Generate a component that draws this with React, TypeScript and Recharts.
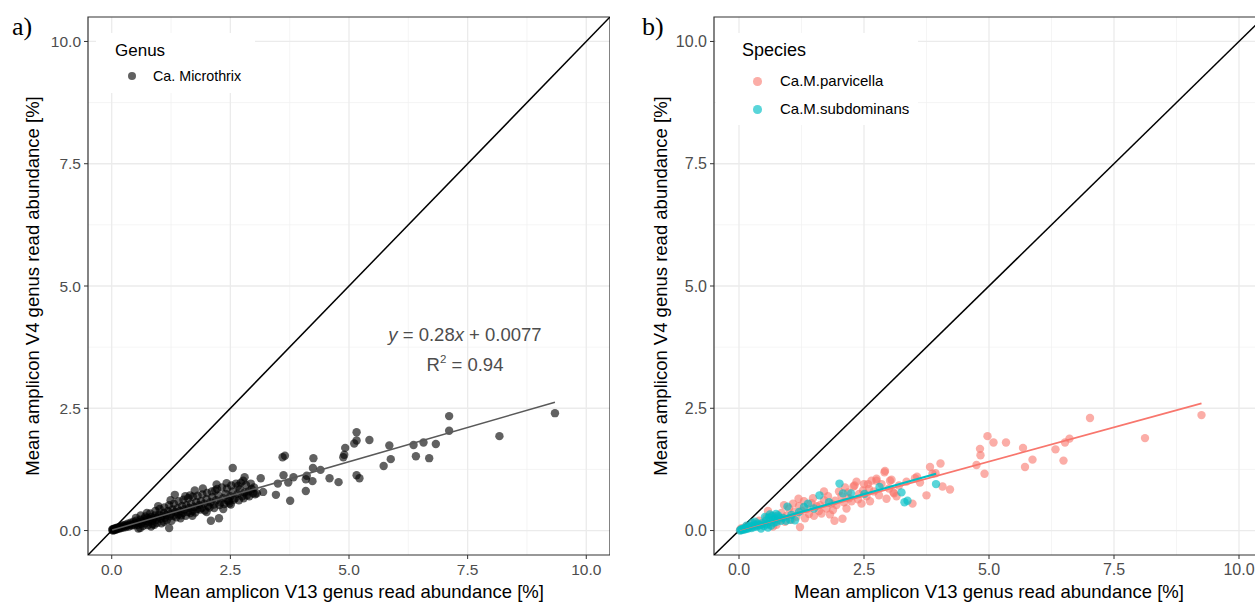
import React from 'react';
import { ScatterChart, Scatter, XAxis, YAxis, CartesianGrid, ReferenceLine, ReferenceArea } from 'recharts';

const majorTicks = [0, 2.5, 5, 7.5, 10];
const minorTicks = [1.25, 3.75, 6.25, 8.75];
const tickLabels = ['0.0', '2.5', '5.0', '7.5', '10.0'];
const axisDomain: [number, number] = [-0.5, 10.5];

const xTitle = 'Mean amplicon V13 genus read abundance [%]';
const yTitle = 'Mean amplicon V4 genus read abundance [%]';

const genusLabel = 'Ca. Microthrix';
const speciesLabels = ['Ca.M.parvicella', 'Ca.M.subdominans'];

// Panel a: Ca. Microthrix (V13 x, V4 y)
const genusPoints: [number, number][] = [
  [9.34, 2.40], [8.17, 1.93], [7.11, 2.34], [7.11, 2.04], [6.83, 1.77], [6.57, 1.80], [6.36, 1.75],
  [6.41, 1.52], [6.69, 1.48], [5.85, 1.74], [5.88, 1.46], [5.73, 1.32], [5.43, 1.85], [5.16, 2.01],
  [5.16, 1.84], [5.11, 1.78], [4.92, 1.69], [4.90, 1.55], [4.88, 1.50], [5.16, 1.13], [5.22, 1.07],
  [4.78, 0.99], [4.59, 1.07], [4.40, 1.24], [4.25, 1.48], [4.24, 1.28], [4.23, 1.01], [4.11, 1.12],
  [4.09, 1.05], [4.09, 0.81], [3.83, 1.09], [3.72, 0.98], [3.76, 0.61], [3.62, 1.13], [3.60, 1.50],
  [3.65, 1.53], [3.50, 0.96], [3.46, 0.73], [3.14, 1.07], [3.19, 0.79], [2.98, 0.76], [3.06, 0.76],
  [2.55, 1.28], [2.77, 1.02], [2.80, 1.09], [2.66, 0.91], [2.42, 0.97], [2.21, 0.94], [2.18, 0.82],
  [2.48, 0.55], [2.26, 0.25], [2.09, 0.20], [2.00, 0.38], [1.75, 0.82], [1.33, 0.73], [1.21, 0.05],
  [1.65, 0.72], [2.88, 0.80], [2.95, 0.85], [3.02, 0.74], [2.85, 0.72], [2.51, 0.53], [0.83, 0.08],
  [0.01, 0.01], [0.02, 0.03], [0.03, 0.00], [0.04, 0.02], [0.05, 0.04], [0.06, 0.01], [0.07, 0.03],
  [0.08, 0.05], [0.09, 0.02], [0.10, 0.04], [0.11, 0.06], [0.12, 0.03], [0.13, 0.05], [0.15, 0.07],
  [0.16, 0.04], [0.18, 0.06], [0.19, 0.09], [0.20, 0.05], [0.22, 0.08], [0.24, 0.11], [0.25, 0.06],
  [0.27, 0.09], [0.29, 0.12], [0.30, 0.07], [0.32, 0.10], [0.34, 0.14], [0.36, 0.08], [0.38, 0.12],
  [0.40, 0.16], [0.42, 0.10], [0.44, 0.13], [0.46, 0.18], [0.48, 0.11], [0.50, 0.15], [0.52, 0.20],
  [0.55, 0.12], [0.57, 0.17], [0.60, 0.22], [0.62, 0.14], [0.65, 0.19], [0.68, 0.24], [0.70, 0.15],
  [0.72, 0.20], [0.75, 0.26], [0.78, 0.18], [0.80, 0.23], [0.83, 0.28], [0.86, 0.20], [0.88, 0.25],
  [0.91, 0.31], [0.94, 0.22], [0.97, 0.27], [1.00, 0.33], [1.03, 0.24], [1.06, 0.30], [1.10, 0.36],
  [1.12, 0.26], [1.15, 0.32], [1.18, 0.40], [1.22, 0.29], [1.25, 0.35], [1.28, 0.43], [1.30, 0.30],
  [1.34, 0.38], [1.38, 0.45], [1.40, 0.33], [1.44, 0.40], [1.48, 0.50], [1.50, 0.36], [1.53, 0.43],
  [1.57, 0.52], [1.60, 0.38], [1.63, 0.46], [1.67, 0.55], [1.70, 0.40], [1.74, 0.48], [1.78, 0.58],
  [1.80, 0.44], [1.84, 0.52], [1.88, 0.60], [1.90, 0.46], [1.95, 0.55], [2.00, 0.64], [2.03, 0.50],
  [2.08, 0.58], [2.12, 0.68], [2.15, 0.53], [2.20, 0.62], [2.25, 0.72], [2.30, 0.58], [2.35, 0.66],
  [2.40, 0.75], [2.45, 0.62], [2.50, 0.70], [2.55, 0.80], [2.60, 0.66], [2.65, 0.75], [2.70, 0.84],
  [2.75, 0.70], [2.80, 0.78], [1.45, 0.25], [0.90, 0.12], [1.70, 0.30], [0.60, 0.05], [1.10, 0.18],
  [0.51, 0.26], [0.56, 0.04], [0.61, 0.31], [0.66, 0.09], [0.71, 0.29], [0.76, 0.11], [0.81, 0.35],
  [0.86, 0.13], [0.92, 0.40], [0.96, 0.16], [1.01, 0.44], [1.05, 0.15], [1.11, 0.47], [1.16, 0.21],
  [1.21, 0.52], [1.26, 0.20], [1.31, 0.55], [1.36, 0.27], [1.41, 0.60], [1.46, 0.31], [1.51, 0.63],
  [1.56, 0.30], [1.61, 0.66], [1.66, 0.36], [1.71, 0.69], [1.76, 0.37], [1.81, 0.71], [1.86, 0.43],
  [1.91, 0.74], [1.96, 0.41], [2.01, 0.77], [2.06, 0.47], [2.11, 0.80], [2.16, 0.46], [2.22, 0.85],
  [2.27, 0.52], [2.32, 0.88], [2.37, 0.54], [2.43, 0.86], [2.47, 0.60], [2.52, 0.92], [2.57, 0.63],
  [2.62, 0.96], [2.68, 0.62], [2.72, 0.98], [2.78, 0.66], [2.83, 0.93], [2.90, 0.70], [2.93, 0.96],
  [3.00, 0.88], [1.24, 0.62], [1.55, 0.70], [0.98, 0.50], [0.74, 0.36], [1.92, 0.86], [2.35, 0.44],
];

// Panel b: species
const parvicellaPoints: [number, number][] = [
  [9.25, 2.36], [8.12, 1.89], [7.02, 2.30], [6.61, 1.88], [6.52, 1.80], [6.33, 1.66], [6.49, 1.43],
  [5.87, 1.45], [5.72, 1.30], [5.68, 1.69], [5.34, 1.80], [5.09, 1.80], [4.97, 1.93], [4.82, 1.67],
  [4.83, 1.54], [4.75, 1.34], [4.91, 1.16], [4.03, 1.37], [3.82, 1.30], [3.93, 1.17], [3.87, 1.16],
  [4.07, 0.90], [4.22, 0.84], [3.75, 0.72], [3.56, 1.10], [3.52, 1.07], [3.62, 0.98], [3.05, 1.04],
  [3.10, 0.76], [3.47, 0.55], [2.92, 1.22], [2.65, 1.02], [2.75, 1.02], [3.02, 1.02], [3.09, 0.78],
  [2.29, 0.90], [1.92, 0.61], [2.07, 0.24], [1.91, 0.20], [1.22, 0.07], [1.19, 0.65], [2.45, 0.55],
  [2.91, 1.19], [2.75, 1.06], [2.31, 0.92], [2.18, 0.78], [2.85, 0.95], [2.60, 0.85], [2.55, 0.70],
  [2.40, 0.75], [2.20, 0.66], [2.05, 0.70], [1.85, 0.55], [1.70, 0.62], [1.55, 0.50], [1.45, 0.56],
  [1.35, 0.44], [1.30, 0.60], [1.10, 0.38], [1.00, 0.45], [0.95, 0.30], [0.85, 0.36], [0.80, 0.22],
  [0.70, 0.30], [0.62, 0.18], [0.55, 0.26], [0.48, 0.14], [0.40, 0.20], [0.35, 0.10], [0.28, 0.15],
  [0.22, 0.06], [0.15, 0.09], [0.10, 0.03], [0.05, 0.05], [0.02, 0.01], [1.60, 0.40], [1.75, 0.45],
  [1.95, 0.52], [2.10, 0.58], [2.25, 0.60], [1.40, 0.34], [1.25, 0.40], [1.15, 0.28], [2.70, 0.80],
  [2.50, 0.95], [3.20, 0.92], [3.35, 1.00], [1.65, 0.35], [1.88, 0.42], [0.90, 0.52], [2.35, 1.00],
  [0.75, 0.12], [1.05, 0.22], [1.50, 0.30], [2.62, 0.60], [3.00, 0.86], [1.20, 0.50], [1.32, 0.25],
  [1.48, 0.66], [1.62, 0.52], [1.78, 0.70], [1.82, 0.33], [2.00, 0.80], [2.15, 0.45], [2.38, 0.64],
  [2.48, 0.82], [2.58, 0.95], [2.80, 0.72], [0.58, 0.40], [0.68, 0.08], [0.92, 0.18], [1.08, 0.55],
  [2.95, 0.65], [3.15, 0.70], [2.12, 0.88], [1.70, 0.80],
];

const subdominansPoints: [number, number][] = [
  [3.94, 0.95], [3.25, 0.78], [3.37, 0.61], [3.31, 0.58], [2.01, 0.96], [1.61, 0.72], [0.97, 0.49],
  [2.08, 0.76], [2.24, 0.76], [2.51, 0.75], [2.81, 0.89], [1.38, 0.55], [0.58, 0.06], [0.64, 0.10],
  [0.44, 0.04], [0.60, 0.27], [0.66, 0.30], [0.72, 0.24], [0.78, 0.31], [0.84, 0.20], [0.70, 0.16],
  [0.94, 0.20], [1.02, 0.22], [1.12, 0.21], [0.02, 0.00], [0.04, 0.02], [0.06, 0.01], [0.08, 0.04],
  [0.10, 0.02], [0.12, 0.05], [0.14, 0.03], [0.16, 0.06], [0.18, 0.04], [0.20, 0.07], [0.22, 0.09],
  [0.25, 0.05], [0.28, 0.10], [0.30, 0.07], [0.33, 0.12], [0.36, 0.08], [0.38, 0.14], [0.42, 0.11],
  [0.46, 0.15], [0.50, 0.09], [0.54, 0.20], [0.56, 0.13], [0.68, 0.22], [0.75, 0.18], [0.88, 0.26],
  [1.20, 0.38], [1.50, 0.45], [1.80, 0.58], [0.32, 0.18], [0.15, 0.10], [0.62, 0.33], [0.74, 0.34],
  [0.80, 0.27], [0.52, 0.28], [0.26, 0.16], [1.30, 0.48], [1.05, 0.32],
];

// fitted regression lines: [slope, intercept, xmin, xmax]
const genusFit = [0.28, 0.0077, 0.01, 9.34];
const parvicellaFit = [0.28, 0.01, 0.02, 9.25];
const subdominansFit = [0.29, 0.02, 0.02, 3.94];

const eqParts = ['y', ' = 0.28', 'x', ' + 0.0077'];
const r2Text = '0.94';

const toXY = (arr: [number, number][]) => arr.map(([x, y]) => ({ x, y }));
const fitLine = (f: number[]) => [
  { x: f[2], y: f[0] * f[2] + f[1] },
  { x: f[3], y: f[0] * f[3] + f[1] },
];

const FONT = '"Liberation Sans", Arial, Helvetica, sans-serif';

const dot = (fill: string, op: number) => (props: any) => (
  <circle cx={props.cx} cy={props.cy} r={4.2} fill={fill} fillOpacity={op} stroke="none" />
);
const noShape = () => <g />;

type Series = { data: [number, number][]; color: string; opacity: number; fit: number[]; lineColor: string; lineWidth: number };

function Panel({ width, yAxisWidth, series, tickFont, titleFont, yTitleOffset }: {
  width: number; yAxisWidth: number; series: Series[]; tickFont: number; titleFont: number; yTitleOffset: number;
}) {
  return (
    <ScatterChart width={width} height={602} margin={{ top: 17, right: 0, bottom: 0, left: 0 }}>
      <CartesianGrid stroke="#F0F0F0" strokeWidth={0.7} verticalValues={minorTicks} horizontalValues={minorTicks} />
      <CartesianGrid stroke="#EBEBEB" strokeWidth={1.3} verticalValues={majorTicks} horizontalValues={majorTicks} />
      <XAxis
        type="number" dataKey="x" domain={axisDomain} ticks={majorTicks} allowDataOverflow
        tickFormatter={(v: number) => tickLabels[majorTicks.indexOf(v)]}
        axisLine={false} tickLine={{ stroke: '#333333' }} tickSize={4} tickMargin={5}
        tick={{ fill: '#4D4D4D', fontSize: tickFont }} height={47}
        label={{ value: xTitle, position: 'insideBottom', offset: 4, fill: '#000', fontSize: titleFont }}
      />
      <YAxis
        type="number" dataKey="y" domain={axisDomain} ticks={majorTicks} allowDataOverflow
        tickFormatter={(v: number) => tickLabels[majorTicks.indexOf(v)]}
        axisLine={false} tickLine={{ stroke: '#333333' }} tickSize={4} tickMargin={3}
        tick={{ fill: '#4D4D4D', fontSize: tickFont }} width={yAxisWidth}
        label={{ value: yTitle, angle: -90, position: 'insideLeft', offset: yTitleOffset, fill: '#000', fontSize: titleFont, style: { textAnchor: 'middle' } }}
      />
      <ReferenceLine segment={[{ x: -0.5, y: -0.5 }, { x: 10.5, y: 10.5 }]} stroke="#000" strokeWidth={1.5} ifOverflow="hidden" />
      {series.map((s, i) => (
        <Scatter key={'p' + i} data={toXY(s.data)} shape={dot(s.color, s.opacity)} isAnimationActive={false} />
      ))}
      {series.map((s, i) => (
        <Scatter key={'l' + i} data={fitLine(s.fit)} line={{ stroke: s.lineColor, strokeWidth: s.lineWidth }} shape={noShape} isAnimationActive={false} />
      ))}
      <ReferenceArea x1={-0.5} x2={10.5} y1={-0.5} y2={10.5} fill="none" fillOpacity={0} stroke="#333333" strokeWidth={1.2} ifOverflow="visible" />
    </ScatterChart>
  );
}

export default function App() {
  return (
    <div style={{ position: 'absolute', left: 0, top: 0, width: 1255, height: 602, overflow: 'hidden', background: '#fff', fontFamily: FONT }}>
      <div style={{ position: 'absolute', left: 0, top: 0 }}>
        <Panel width={610} yAxisWidth={88} tickFont={15.5} titleFont={18.5} yTitleOffset={32}
          series={[{ data: genusPoints, color: '#000000', opacity: 0.62, fit: genusFit, lineColor: '#595959', lineWidth: 1.5 }]} />
      </div>
      <div style={{ position: 'absolute', left: 626, top: 0 }}>
        <Panel width={638} yAxisWidth={88} tickFont={16} titleFont={18.5} yTitleOffset={34}
          series={[
            { data: parvicellaPoints, color: '#F8766D', opacity: 0.6, fit: parvicellaFit, lineColor: '#F8766D', lineWidth: 1.8 },
            { data: subdominansPoints, color: '#00BFC4', opacity: 0.65, fit: subdominansFit, lineColor: '#00BFC4', lineWidth: 2.2 },
          ]} />
      </div>

      {/* panel labels */}
      <div style={{ position: 'absolute', left: 12, top: 12, fontFamily: '"Liberation Serif", "Times New Roman", serif', fontSize: 26, color: '#000' }}>a)</div>
      <div style={{ position: 'absolute', left: 642, top: 12, fontFamily: '"Liberation Serif", "Times New Roman", serif', fontSize: 26, color: '#000' }}>b)</div>

      {/* legend a */}
      <div style={{ position: 'absolute', left: 96, top: 33, width: 159, height: 60, background: '#fff' }}>
        <div style={{ position: 'absolute', left: 19, top: 8, fontSize: 17, color: '#000', lineHeight: '20px' }}>Genus</div>
        <div style={{ position: 'absolute', left: 32, top: 39, width: 8.4, height: 8.4, borderRadius: '50%', background: 'rgba(0,0,0,0.62)' }} />
        <div style={{ position: 'absolute', left: 57, top: 35, fontSize: 14.3, color: '#000', lineHeight: '17px', whiteSpace: 'nowrap' }}>{genusLabel}</div>
      </div>

      {/* legend b */}
      <div style={{ position: 'absolute', left: 716, top: 33, width: 202, height: 92, background: '#fff' }}>
        <div style={{ position: 'absolute', left: 26, top: 6, fontSize: 18, color: '#000', lineHeight: '22px' }}>Species</div>
        <div style={{ position: 'absolute', left: 37, top: 44, width: 8.6, height: 8.6, borderRadius: '50%', background: 'rgba(248,118,109,0.6)' }} />
        <div style={{ position: 'absolute', left: 64, top: 39, fontSize: 15, color: '#000', lineHeight: '18px', whiteSpace: 'nowrap' }}>{speciesLabels[0]}</div>
        <div style={{ position: 'absolute', left: 37, top: 72, width: 8.6, height: 8.6, borderRadius: '50%', background: 'rgba(0,191,196,0.65)' }} />
        <div style={{ position: 'absolute', left: 64, top: 67, fontSize: 15, color: '#000', lineHeight: '18px', whiteSpace: 'nowrap' }}>{speciesLabels[1]}</div>
      </div>

      {/* regression annotation */}
      <div style={{ position: 'absolute', left: 365, top: 323, width: 200, textAlign: 'center', fontSize: 18.5, color: '#4D4D4D', lineHeight: '24px', whiteSpace: 'nowrap' }}>
        <span style={{ fontStyle: 'italic' }}>{eqParts[0]}</span>{eqParts[1]}<span style={{ fontStyle: 'italic' }}>{eqParts[2]}</span>{eqParts[3]}
      </div>
      <div style={{ position: 'absolute', left: 365, top: 352, width: 200, textAlign: 'center', fontSize: 18.5, color: '#4D4D4D', lineHeight: '26px', whiteSpace: 'nowrap' }}>
        R<span style={{ fontSize: 11.5, position: 'relative', top: -8 }}>2</span> = {r2Text}
      </div>
    </div>
  );
}
